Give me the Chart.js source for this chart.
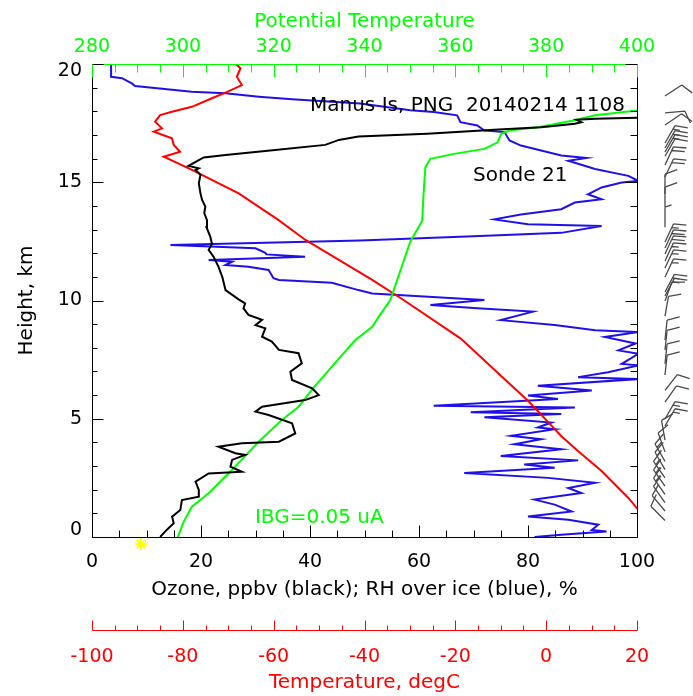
<!DOCTYPE html>
<html>
<head>
<meta charset="utf-8">
<script src="https://cdn.jsdelivr.net/npm/chart.js@4.4.1/dist/chart.umd.min.js"></script>
<style>
  html, body { margin: 0; padding: 0; background: #fff; }
  #wrap { width: 693px; height: 696px; }
</style>
</head>
<body>
<div id="wrap"><canvas id="sonde" width="693" height="696"></canvas></div>
<script>
const FONT = 'DejaVu Sans';
const BLACK = '#000000';
const GREEN = '#00ff00';
const RED = '#ff0000';
const BLUE = '#2010e8';

// ozone, ppbv
const ozoneHeight = [0, 0.3, 0.58, 0.86, 1.14, 1.56, 1.7, 1.99, 2.34, 2.69, 2.76, 2.97, 3.26, 3.47, 3.54, 3.82, 3.96,
  4.03, 4.38, 4.81, 5.16, 5.3, 5.51, 5.79, 6.0, 6.29, 6.64, 6.99, 7.34, 7.77, 7.91, 8.26, 8.47, 8.82, 8.96, 9.18, 9.39,
  9.67, 9.88, 10.05, 10.44, 11.0, 11.43, 11.85, 12.14, 12.4, 12.7, 13.1, 13.4, 13.7, 13.97, 14.25, 14.53, 14.96, 15.31,
  15.52, 15.59, 15.69, 15.94, 16.05, 16.15, 16.36, 16.58, 16.79, 16.93, 17.05, 17.22, 17.33, 17.47, 17.54, 17.64,
  17.69, 17.73, 17.78];
const ozoneValue = [12.5, 13.7, 15.0, 14.7, 16.2, 16.5, 19.6, 19.6, 19.0, 21.4, 27.5, 25.4, 25.7, 28.1, 26.3, 23.2, 27.5,
  34.3, 37.3, 36.7, 32.4, 30.0, 31.2, 39.1, 41.6, 40.4, 36.7, 36.4, 38.5, 37.9, 34.3, 33.0, 31.2, 31.8, 30.0, 31.2, 28.7,
  27.8, 28.1, 26.9, 24.5, 23.9, 23.2, 22.3, 21.4, 22.0, 21.7, 21.0, 21.1, 20.6, 20.8, 20.2, 19.9, 19.6, 19.9,
  19.0, 19.6, 17.7, 19.6, 20.5, 24.5, 33.6, 42.8, 45.3, 48.9, 61.5, 73.8, 82.4, 88.6, 89.8, 88.9,
  92.3, 100.3, 106];

// RH over ice, %
const rhHeight = [0, 0.09, 0.23, 0.3, 0.52, 0.73, 0.87, 1.08, 1.37, 1.58, 1.86, 2.07, 2.29, 2.5, 2.71, 2.93, 3.07, 3.24,
  3.42, 3.71, 3.92, 4.13, 4.28, 4.56, 4.63, 4.84, 5.06, 5.2, 5.27, 5.48, 5.55, 5.84, 5.98, 6.19, 6.4, 6.68, 6.76, 6.97,
  7.26, 7.32, 7.75, 7.89, 8.18, 8.46, 8.67, 8.74, 8.96, 9.17, 9.53, 9.67, 9.81, 10.02, 10.3, 10.44, 10.75, 10.87, 10.94,
  11.29, 11.43, 11.5, 11.64, 11.71, 11.85, 11.95, 12.02, 12.21, 12.35, 12.54, 12.72, 12.86, 13.15, 13.22, 13.43, 13.64,
  13.86, 14.14, 14.28, 14.49, 14.78, 14.99, 15.06, 15.27, 15.56, 15.91, 16.03, 16.13, 16.34, 16.55, 16.77, 17.12, 17.19,
  17.4, 17.54, 17.83, 17.97, 18.04, 18.33, 18.51, 18.62, 18.76, 18.83, 19.07, 19.18, 19.4, 19.46, 20];
const rhValue = [81.2, 86.1, 94.4, 91.7, 92.9, 87.4, 80.0, 88.0, 84.9, 81.2, 89.8, 87.4, 92.3, 83.7, 68.3, 84.9, 79.3, 89.2,
  75.0, 86.1, 77.5, 82.4, 76.9, 84.9, 81.8, 84.3, 72.0, 86.1, 69.5, 88.6, 62.7, 85.5, 80.0, 91.7, 81.8, 100.3, 89.2, 94.7,
  100.3, 97.2, 100.3, 96.6, 99.7, 94.1, 100.3, 92.3, 84.9, 75.0, 80.9, 70.7, 62.1, 72.0, 51.4, 48.9, 44.0, 34.3, 33.3,
  32.4, 28.7, 24.5, 25.7, 21.4, 39.1, 32.0, 31.8, 30.0, 14.4, 49.2, 70.0, 86.1, 93.5, 80.0, 73.8, 78.7,
  86.1, 88.6, 93.5, 91.0, 93.5, 97.2, 100.3, 98.4, 92.3, 87.4, 90.7, 86.1, 82.4, 78.7, 76.6, 75.7, 72.0,
  70.7, 67.6, 67.0, 62.7, 58.4, 49.2, 36.7, 30.6, 24.5, 18.3, 7.9, 7.3, 5.5, 3.5, 3.5];

// temperature, degC
const tempHeight = [0, 1.15, 1.65, 2.79, 3.64, 4.27, 5.48, 5.76, 6.68, 8.39, 10.02, 10.87, 12.56, 13.4, 14.53, 15.52,
  16.08, 16.29, 16.58, 16.86, 17.14, 17.28, 17.56, 17.84, 17.98, 18.19, 18.55, 18.79, 19.11, 19.46, 19.82, 19.96, 20];
const tempValue = [26, 20.3, 18.1, 12.2, 7.0, 3.3, -2.6, -4.0, -9.2, -18.8, -31.4, -38.3, -53.0, -58.9, -67.7, -78.0,
  -84.2, -80.6, -82.0, -82.4, -86.4, -84.6, -86.1, -85.0, -82.4, -78.0, -73.6, -70.6, -67.0, -68.1, -67.3, -68.1, -68.5];

// potential temperature, K
const thetaHeight = [0, 0.65, 1.28, 1.85, 2.83, 4.03, 4.95, 5.51, 6.22, 7.2, 8.33, 8.89, 9.39, 10.02, 11.66, 12.5, 13.36,
  14.5, 15.63, 15.99, 16.2, 16.41, 16.69, 17.05, 17.19, 17.33, 17.62, 17.83, 18.04, 18.2];
const thetaValue = [298.9, 300.2, 302, 305.7, 310.8, 316.7, 321.8, 325.5, 328.4, 332.8, 338, 341.7, 343.4, 345.7, 348.6,
  350.1, 352.7, 353, 353.4, 354.5, 359.7, 366.4, 369.3, 370.1, 371.9, 378.2, 386.3, 390.8, 400.3, 405];

// wind barbs: height km, direction the staff points (deg clockwise from up), speed in knots
const windHeight = [18.65, 17.93, 17.42, 16.66, 16.45, 16.28, 16.1, 15.73, 15.22, 14.5, 13.95, 13.1, 12.47, 12.22,
  11.97, 11.67, 11.37, 10.99, 10.36, 10.19, 9.98, 9.34, 8.33, 7.9, 7.32, 6.85, 6.2, 5.7, 4.99, 4.69, 4.1, 3.6, 3.2,
  2.85, 2.5, 2.15, 1.8, 1.45, 1.1, 0.7];
const windDir = [57, 85, 56, 30, 30, 30, 30, 25, 25, 0, 0, 0, 25, 25, 25, 25, 25, 25, 28, 28, 20, 10, 6, 6, 6, 6, 38, 35,
  30, 30, 350, 340, 330, 330, 325, 325, 325, 325, 320, 315];
const windSpeed = [10, 10, 10, 15, 15, 15, 10, 20, 20, 10, 10, 5, 15, 20, 20, 15, 15, 15, 15, 15, 10, 10, 10, 10, 10, 10,
  10, 10, 15, 15, 10, 10, 15, 15, 15, 15, 15, 10, 10, 10];

const surfaceOzone = [{ x: 9, y: -0.3 }];

function pairs(values, heights) {
  return values.map((v, i) => ({ x: v, y: heights[i] }));
}

function tickMarks(ctx, scale, at, dir, minor, major, every, color) {
  ctx.strokeStyle = color;
  scale.ticks.forEach((t) => {
    const p = Math.round(scale.getPixelForValue(t.value)) + 0.5;
    const len = t.value % every === 0 ? major : minor;
    ctx.beginPath();
    if (scale.isHorizontal()) {
      ctx.moveTo(p, at);
      ctx.lineTo(p, at + dir * len);
    } else {
      ctx.moveTo(at, p);
      ctx.lineTo(at + dir * len, p);
    }
    ctx.stroke();
  });
}

function edge(ctx, color, x1, y1, x2, y2) {
  ctx.strokeStyle = color;
  ctx.beginPath();
  ctx.moveTo(x1, y1);
  ctx.lineTo(x2, y2);
  ctx.stroke();
}

const axesPlugin = {
  id: 'axes',
  afterDraw(chart) {
    const { ctx, chartArea: a, scales } = chart;
    const L = a.left + 0.5;
    const R = a.right + 0.5;
    const T = a.top + 0.5;
    const B = a.bottom + 0.5;
    const redY = Math.round(scales.xT.top + 15) + 0.5;
    ctx.save();
    ctx.lineWidth = 1;
    edge(ctx, BLACK, L, T, L, B);
    edge(ctx, BLACK, R, T, R, B);
    edge(ctx, BLACK, L, B, R, B);
    edge(ctx, GREEN, L, T, R, T);
    edge(ctx, RED, L, redY, R, redY);
    tickMarks(ctx, scales.y, L, 1, 5, 11, 5, BLACK);
    tickMarks(ctx, scales.y, R, -1, 7, 12, 5, BLACK);
    tickMarks(ctx, scales.x, B, -1, 7, 12, 20, BLACK);
    tickMarks(ctx, scales.xP, T, 1, 8, 13, 20, GREEN);
    tickMarks(ctx, scales.xT, redY, -1, 5, 10, 20, RED);

    // height labels, the end ones pulled inside the frame
    ctx.font = `19px "${FONT}"`;
    ctx.fillStyle = BLACK;
    ctx.textAlign = 'right';
    ctx.textBaseline = 'middle';
    scales.y.ticks.forEach((t) => {
      if (t.value % 5 !== 0) return;
      const p = scales.y.getPixelForValue(t.value);
      const yy = Math.min(Math.max(p, a.top + 7), a.bottom - 7);
      ctx.fillText(String(t.value), a.left - 10, yy);
    });
    ctx.restore();
  },
};

const barbPlugin = {
  id: 'barbs',
  afterDraw(chart) {
    const { ctx, chartArea: a, scales: { y } } = chart;
    const x0 = a.right + 28;
    const turn = 70 * Math.PI / 180;
    ctx.save();
    ctx.strokeStyle = '#4a4a4a';
    ctx.lineWidth = 1.3;
    windHeight.forEach((h, i) => {
      const by = y.getPixelForValue(h);
      const d = windDir[i] * Math.PI / 180;
      const ux = Math.sin(d);
      const uy = -Math.cos(d);
      const tx = x0 + ux * 20;
      const ty = by + uy * 20;
      const fx = ux * Math.cos(turn) - uy * Math.sin(turn);
      const fy = ux * Math.sin(turn) + uy * Math.cos(turn);
      ctx.beginPath();
      ctx.moveTo(x0, by);
      ctx.lineTo(tx, ty);
      let left = windSpeed[i];
      let k = 0;
      while (left >= 5) {
        const len = left >= 10 ? 13 : 7;
        const sx = tx - ux * 4 * k;
        const sy = ty - uy * 4 * k;
        ctx.moveTo(sx, sy);
        ctx.lineTo(sx + fx * len, sy + fy * len);
        left -= left >= 10 ? 10 : 5;
        k += 1;
      }
      ctx.stroke();
    });
    ctx.restore();
  },
};

const notesPlugin = {
  id: 'notes',
  afterDatasetsDraw(chart) {
    const { ctx, scales: { x, y } } = chart;
    ctx.save();
    ctx.font = `20px "${FONT}"`;
    ctx.textBaseline = 'alphabetic';
    ctx.fillStyle = BLACK;
    ctx.fillText('Manus Is, PNG  20140214 1108', x.getPixelForValue(40), y.getPixelForValue(18.0));
    ctx.fillText('Sonde 21', x.getPixelForValue(69.9), y.getPixelForValue(15.05));
    ctx.fillStyle = GREEN;
    ctx.fillText('IBG=0.05 uA', x.getPixelForValue(29.9), y.getPixelForValue(0.59));
    ctx.restore();
  },
};

const tickFont = { family: FONT, size: 19 };
const titleFont = { family: FONT, size: 20 };
const noGrid = { display: false, drawTicks: false };

function line(label, data, axis, color) {
  return {
    label,
    data,
    xAxisID: axis,
    yAxisID: 'y',
    showLine: true,
    borderColor: color,
    borderWidth: 2,
    pointRadius: 0,
    tension: 0,
  };
}

new Chart(document.getElementById('sonde'), {
  type: 'scatter',
  data: {
    datasets: [
      line('Ozone', pairs(ozoneValue, ozoneHeight), 'x', BLACK),
      line('Potential temperature', pairs(thetaValue, thetaHeight), 'xP', GREEN),
      line('Temperature', pairs(tempValue, tempHeight), 'xT', RED),
      line('RH over ice', pairs(rhValue, rhHeight), 'x', BLUE),
      {
        label: 'Surface ozone',
        data: surfaceOzone,
        xAxisID: 'x',
        yAxisID: 'y',
        pointStyle: 'star',
        pointRadius: 6,
        borderColor: '#ffff00',
        borderWidth: 2,
        clip: false,
      },
    ],
  },
  options: {
    responsive: false,
    animation: false,
    devicePixelRatio: 1,
    layout: { padding: { left: 0, right: 56, top: 0, bottom: 0 } },
    plugins: { legend: { display: false }, tooltip: { enabled: false } },
    scales: {
      x: {
        type: 'linear',
        position: 'bottom',
        weight: 0,
        min: 0,
        max: 100,
        grid: noGrid,
        border: { display: false },
        ticks: {
          stepSize: 5, maxTicksLimit: 100, autoSkip: false, maxRotation: 0, padding: 14,
          color: BLACK, font: tickFont, callback: (v) => (v % 20 === 0 ? String(v) : ''),
        },
        title: {
          display: true, text: 'Ozone, ppbv (black); RH over ice (blue), %', color: BLACK,
          font: titleFont, padding: { top: 0, bottom: 13 },
        },
        afterFit: (s) => { s.height = 78; },
      },
      xT: {
        type: 'linear',
        position: 'bottom',
        weight: 1,
        min: -100,
        max: 20,
        grid: noGrid,
        border: { display: false },
        ticks: {
          stepSize: 5, maxTicksLimit: 100, autoSkip: false, maxRotation: 0, padding: 31,
          color: RED, font: tickFont, callback: (v) => (v % 20 === 0 ? String(v) : ''),
        },
        title: {
          display: true, text: 'Temperature, degC', color: RED,
          font: titleFont, padding: { top: 0, bottom: 1 },
        },
        afterFit: (s) => { s.height = 81; },
      },
      xP: {
        type: 'linear',
        position: 'top',
        min: 280,
        max: 400,
        grid: noGrid,
        border: { display: false },
        ticks: {
          stepSize: 5, maxTicksLimit: 100, autoSkip: false, maxRotation: 0, padding: 6,
          color: GREEN, font: tickFont, callback: (v) => (v % 20 === 0 ? String(v) : ''),
        },
        title: {
          display: true, text: 'Potential Temperature', color: GREEN,
          font: titleFont, padding: { top: 10, bottom: 0 },
        },
        afterFit: (s) => { s.height = 64; },
      },
      y: {
        type: 'linear',
        position: 'left',
        min: 0,
        max: 20,
        grid: noGrid,
        border: { display: false },
        ticks: {
          display: false, stepSize: 1, maxTicksLimit: 100, autoSkip: false, padding: 10,
          color: BLACK, font: tickFont,
        },
        title: {
          display: true, text: 'Height, km', color: BLACK,
          font: titleFont, padding: { top: 15, bottom: 0 },
        },
        afterFit: (s) => { s.width = 92; },
      },
    },
  },
  plugins: [notesPlugin, axesPlugin, barbPlugin],
});
</script>
</body>
</html>
